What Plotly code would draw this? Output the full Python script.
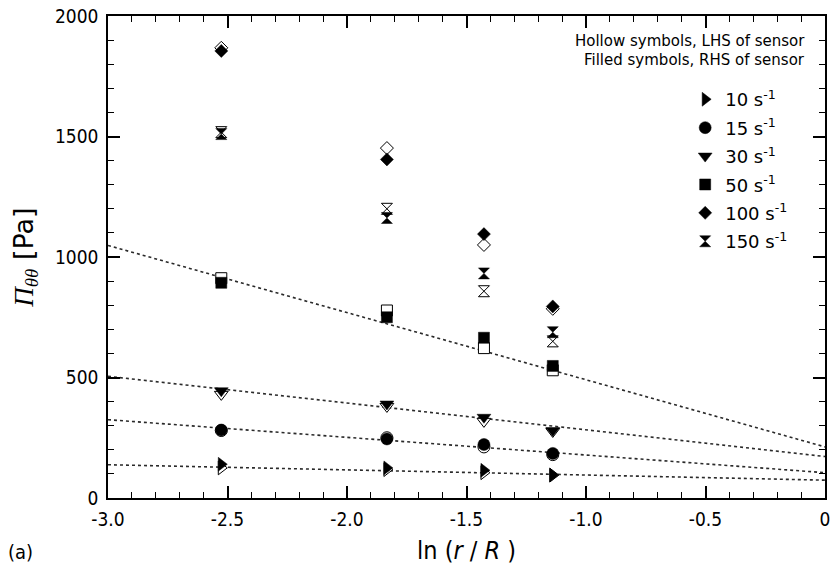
import plotly.graph_objects as go

# ln(r/R) positions
x_pos = [-2.526, -1.833, -1.427, -1.139]

rates = ["10", "15", "30", "50", "100", "150"]
symbols = ["triangle-right", "circle", "triangle-down", "square", "diamond", "hourglass"]
sizes = [12, 12, 12, 11, 10, 11]

# LHS of sensor (hollow symbols)
lhs_10 = [125, 118, 105, 95]
lhs_15 = [280, 250, 212, 180]
lhs_30 = [430, 380, 318, 276]
lhs_50 = [912, 778, 622, 530]
lhs_100 = [1868, 1452, 1050, 785]
lhs_150 = [1518, 1200, 858, 650]

# RHS of sensor (filled symbols)
rhs_10 = [140, 125, 115, 95]
rhs_15 = [282, 245, 222, 185]
rhs_30 = [445, 390, 335, 280]
rhs_50 = [893, 750, 665, 548]
rhs_100 = [1855, 1405, 1095, 795]
rhs_150 = [1510, 1162, 932, 688]

lhs = [lhs_10, lhs_15, lhs_30, lhs_50, lhs_100, lhs_150]
rhs = [rhs_10, rhs_15, rhs_30, rhs_50, rhs_100, rhs_150]

# linear fits (value at ln(r/R) = -3 and 0)
fit_x = [-3.0, 0.0]
fit_10 = [138, 74]
fit_15 = [325, 105]
fit_30 = [505, 172]
fit_50 = [1048, 212]
fits = [fit_10, fit_15, fit_30, fit_50]

x_tickvals = [-3.0, -2.5, -2.0, -1.5, -1.0, -0.5, 0.0]
x_ticktext = ["-3.0", "-2.5", "-2.0", "-1.5", "-1.0", "-0.5", "0"]
y_tickvals = [0, 500, 1000, 1500, 2000]
y_ticktext = ["0", "500", "1000", "1500", "2000"]

FONT = "DejaVu Sans"
TICKFONT = "Liberation Sans Narrow, DejaVu Sans Condensed, Liberation Sans"

fig = go.Figure()

for f in fits:
    fig.add_trace(go.Scatter(x=fit_x, y=f, mode="lines", showlegend=False,
                             line=dict(color="#2a2a2a", width=1.6, dash="3px,3px"),
                             hoverinfo="skip"))

for i in range(6):
    fig.add_trace(go.Scatter(x=x_pos, y=lhs[i], mode="markers", showlegend=False,
                             marker=dict(symbol=symbols[i], size=sizes[i], color="white",
                                         line=dict(color="black", width=1))))

for i in range(6):
    fig.add_trace(go.Scatter(x=x_pos, y=rhs[i], mode="markers",
                             name=rates[i] + " s<sup>-1</sup>", legendgroup=rates[i],
                             marker=dict(symbol=symbols[i], size=sizes[i], color="black",
                                         line=dict(color="black", width=0.5))))

axis_common = dict(showline=True, linecolor="black", linewidth=1.5, mirror="ticks",
                   ticks="inside", ticklen=12, tickwidth=1.5, tickcolor="black",
                   showgrid=False, zeroline=False,
                   tickfont=dict(family=TICKFONT, size=19, color="black"))

fig.update_xaxes(range=[-3, 0], tickvals=x_tickvals, ticktext=x_ticktext,
                 minor=dict(dtick=0.1, ticks="inside", ticklen=6, tickwidth=1.2, tickcolor="black"),
                 ticklabelstandoff=3,
                 **axis_common)
fig.update_yaxes(range=[0, 2000], tickvals=y_tickvals, ticktext=y_ticktext,
                 minor=dict(dtick=100, ticks="inside", ticklen=6, tickwidth=1.2, tickcolor="black"),
                 ticklabelstandoff=4,
                 title=dict(text="<span style='font-family:Liberation Serif'><i>Π</i><sub><i>θθ</i></sub></span> [Pa]",
                            font=dict(family=FONT, size=27, color="black"), standoff=14),
                 **axis_common)

# x-axis title
fig.add_annotation(x=0.5, y=0.0, xref="paper", yref="paper", xanchor="center", yanchor="middle",
                   yshift=-52, showarrow=False, text="ln (<i>r</i> / <i>R</i> )",
                   font=dict(family=TICKFONT, size=25, color="black"))
# legend header lines
fig.add_annotation(x=1.0, y=1.0, xref="paper", yref="paper", xanchor="right", yanchor="middle",
                   xshift=-18, yshift=-25, showarrow=False,
                   text="Hollow symbols, LHS of sensor",
                   font=dict(family=FONT, size=15, color="black"))
fig.add_annotation(x=1.0, y=1.0, xref="paper", yref="paper", xanchor="right", yanchor="middle",
                   xshift=-18, yshift=-44, showarrow=False,
                   text="Filled symbols, RHS of sensor",
                   font=dict(family=FONT, size=15, color="black"))
fig.add_annotation(x=0.0, y=0.0, xref="paper", yref="paper", xanchor="center", yanchor="middle",
                   xshift=-88, yshift=-54, showarrow=False, text="(a)",
                   font=dict(family=TICKFONT, size=20, color="black"))

fig.update_layout(
    width=835, height=577,
    margin=dict(l=108, r=5, t=13, b=79),
    plot_bgcolor="white", paper_bgcolor="white",
    font=dict(family=FONT, color="black"),
    legend=dict(x=0.805, y=0.865, xanchor="left", yanchor="top", bgcolor="rgba(0,0,0,0)",
                font=dict(family=FONT, size=18, color="black"), tracegroupgap=2,
                traceorder="grouped", itemsizing="trace"),
)

fig.write_html("out.html")
